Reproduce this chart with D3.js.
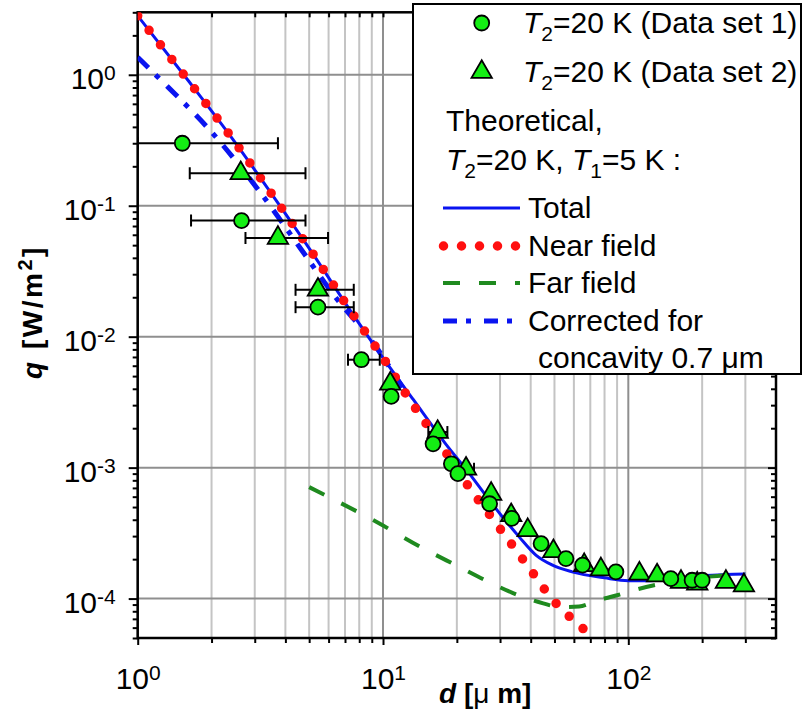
<!DOCTYPE html>
<html>
<head>
<meta charset="utf-8">
<script src="https://cdn.jsdelivr.net/npm/d3@7"></script>
<style>
  body { margin: 0; background: #fff; }
  svg { font-family: "Liberation Sans", Arial, sans-serif; }
</style>
</head>
<body>
<div class="chart"></div>
<script>
// data: [d (um), q (W/m2), xerr low, xerr high]
const dataSet1 = [
  [1.52, 0.30, 1.0, 3.73], [2.65, 0.077, 1.65, 4.83], [5.43, 0.0168, 4.4, 7.6],
  [8.16, 0.00667, 7.2, 9.7], [10.8, 0.0035], [16.0, 0.00152], [19.0, 0.00107],
  [20.2, 9.0e-4], [27.2, 5.3e-4], [33.5, 4.1e-4], [44.1, 2.63e-4], [55.7, 2.02e-4],
  [65.1, 1.8e-4], [89, 1.6e-4], [149, 1.42e-4], [182, 1.38e-4], [200, 1.38e-4]
];
const dataSet2 = [
  [2.63, 0.177, 1.63, 4.83], [3.73, 0.0568, 2.75, 5.97], [5.43, 0.0228, 4.4, 7.6],
  [10.7, 0.00437], [16.7, 0.00187, 15.3, 18.3], [21.8, 9.8e-4, 20.3, 23.5],
  [27.6, 6.3e-4], [33.3, 4.33e-4], [38.9, 3.33e-4], [49.5, 2.3e-4], [66.1, 1.8e-4],
  [77.3, 1.67e-4], [111, 1.55e-4], [131, 1.5e-4], [164, 1.34e-4], [191, 1.3e-4],
  [250, 1.34e-4], [296, 1.26e-4]
];
// theoretical curves [d, q]
const totalCurve = [
  [1, 2.82], [1.63, 0.873], [2.41, 0.333], [3.56, 0.119], [5.18, 0.0429], [7.43, 0.0154],
  [10, 0.0069], [13.3, 0.0033], [18.0, 0.00152], [22.5, 9.0e-4], [26.3, 6.1e-4],
  [30.7, 4.2e-4], [35.9, 2.96e-4], [42, 2.15e-4], [49.1, 1.8e-4], [59, 1.6e-4],
  [80, 1.44e-4], [100, 1.37e-4], [122, 1.37e-4], [147, 1.42e-4], [200, 1.49e-4],
  [250, 1.53e-4], [300, 1.54e-4]
];
const nearField = [
  [1, 2.82], [1.63, 0.873], [2.41, 0.333], [3.56, 0.119], [5.18, 0.0429], [7.43, 0.0154],
  [10, 0.0069], [12.9, 0.00326], [15.5, 0.00198], [18.7, 0.00118], [22.4, 7.1e-4],
  [27.3, 4.33e-4], [33.3, 2.63e-4], [40.2, 1.63e-4], [49.2, 9.8e-5], [55.4, 7.8e-5],
  [62.7, 6.3e-5], [70.4, 5.2e-5], [73, 4.8e-5]
];
const farField = [
  [5, 7.1e-4], [9.67, 3.74e-4], [14.1, 2.5e-4], [19.8, 1.8e-4], [27, 1.34e-4],
  [37.1, 1.03e-4], [45, 9.2e-5], [53, 8.6e-5], [63, 8.7e-5], [74, 9.6e-5],
  [90, 1.06e-4], [104, 1.15e-4], [126, 1.26e-4], [150, 1.33e-4], [200, 1.45e-4],
  [250, 1.51e-4], [300, 1.54e-4]
];
const corrected = [
  [1, 1.36], [1.195, 0.98], [2.06, 0.343], [3.05, 0.138], [4.58, 0.048],
  [6.25, 0.0212], [9.39, 0.0083], [12, 0.0041]
];
const xMajor = [1, 10, 100];
const yMajor = [1e-4, 1e-3, 1e-2, 1e-1, 1];

const width = 805, height = 715;
const pLeft = 137.7, pRight = 776, pTop = 12.3, pBottom = 638;

const x = d3.scaleLog().domain([1, 400]).range([pLeft, pRight]);
const y = d3.scaleLog().domain([5e-5, 3]).range([pBottom, pTop]);

const xAll = [];
[1, 10, 100].forEach(b => { for (let k = 1; k <= 9; k++) if (b * k < 400) xAll.push(b * k); });
const xMinor = xAll.filter(v => !xMajor.includes(v));
const yAll = [];
[1e-5, 1e-4, 1e-3, 1e-2, 1e-1, 1].forEach(b => {
  for (let k = 1; k <= 9; k++) { const v = +(b * k).toPrecision(3); if (v >= 5e-5 && v <= 3) yAll.push(v); }
});
const yMinor = yAll.filter(v => !yMajor.some(m => Math.abs(m - v) / m < 1e-6));

const svg = d3.select(".chart").append("svg")
  .attr("width", width).attr("height", height);

// grid
svg.append("g").selectAll("line").data(xMinor).join("line")
  .attr("x1", d => x(d)).attr("x2", d => x(d)).attr("y1", pTop).attr("y2", pBottom)
  .attr("stroke", "#c4c4c4").attr("stroke-width", 2);
svg.append("g").selectAll("line").data(xMajor).join("line")
  .attr("x1", d => x(d)).attr("x2", d => x(d)).attr("y1", pTop).attr("y2", pBottom)
  .attr("stroke", "#8f8f8f").attr("stroke-width", 2);
svg.append("g").selectAll("line").data(yMajor).join("line")
  .attr("x1", pLeft).attr("x2", pRight).attr("y1", d => y(d)).attr("y2", d => y(d))
  .attr("stroke", "#8f8f8f").attr("stroke-width", 2);

// axes
function supLabels(g) {
  g.selectAll(".tick text").each(function (d) {
    const t = d3.select(this).text(null);
    t.append("tspan").text("10");
    t.append("tspan").attr("dy", "-0.42em").attr("font-size", 21).text(Math.round(Math.log10(d)));
  });
}
function styleAxis(g) {
  g.select(".domain").remove();
  g.selectAll(".tick line").attr("stroke", "#000").attr("stroke-width", 2);
  g.selectAll(".tick text").attr("fill", "#000");
}

const yMajAxis = svg.append("g").attr("transform", `translate(${pLeft},0)`)
  .call(d3.axisLeft(y).tickValues(yMajor).tickSize(9).tickPadding(13))
  .attr("font-size", 30).attr("font-family", null);
styleAxis(yMajAxis); supLabels(yMajAxis);
yMajAxis.selectAll(".tick text").attr("dy", "0.45em");
const yMinAxis = svg.append("g").attr("transform", `translate(${pLeft},0)`)
  .call(d3.axisLeft(y).tickValues(yMinor).tickSize(5).tickFormat(""));
styleAxis(yMinAxis);

const rMajAxis = svg.append("g").attr("transform", `translate(${pRight},0)`)
  .call(d3.axisLeft(y).tickValues(yMajor).tickSize(8).tickFormat(""));
styleAxis(rMajAxis);
const rMinAxis = svg.append("g").attr("transform", `translate(${pRight},0)`)
  .call(d3.axisLeft(y).tickValues(yMinor).tickSize(5).tickFormat(""));
styleAxis(rMinAxis);

const xMajAxis = svg.append("g").attr("transform", `translate(0,${pBottom})`)
  .call(d3.axisBottom(x).tickValues(xMajor).tickSize(7).tickPadding(12))
  .attr("font-size", 30).attr("font-family", null);
styleAxis(xMajAxis); supLabels(xMajAxis);
xMajAxis.selectAll(".tick text").attr("dy", "1.05em");
const xMinAxis = svg.append("g").attr("transform", `translate(0,${pBottom})`)
  .call(d3.axisBottom(x).tickValues(xMinor).tickSize(5).tickFormat(""));
styleAxis(xMinAxis);
const tAxis = svg.append("g").attr("transform", `translate(0,${pTop})`)
  .call(d3.axisBottom(x).tickValues(xAll).tickSize(5).tickFormat(""));
styleAxis(tAxis);

// frame
svg.append("rect").attr("x", pLeft).attr("y", pTop)
  .attr("width", pRight - pLeft).attr("height", pBottom - pTop)
  .attr("fill", "none").attr("stroke", "#000").attr("stroke-width", 2.5);

// clip
svg.append("clipPath").attr("id", "plotclip").append("rect")
  .attr("x", pLeft).attr("y", pTop).attr("width", pRight - pLeft).attr("height", pBottom - pTop);
const plot = svg.append("g").attr("clip-path", "url(#plotclip)");

const line = d3.line().x(d => x(d[0])).y(d => y(d[1])).curve(d3.curveMonotoneX);

plot.append("path").datum(totalCurve).attr("d", line)
  .attr("fill", "none").attr("stroke", "#0a14f0").attr("stroke-width", 3);
plot.append("path").datum(farField).attr("d", line)
  .attr("fill", "none").attr("stroke", "#1f8a1f").attr("stroke-width", 4)
  .attr("stroke-dasharray", "17 19");
plot.append("path").datum(corrected).attr("d", line)
  .attr("fill", "none").attr("stroke", "#0a14f0").attr("stroke-width", 5)
  .attr("stroke-dasharray", "15 10 5 11");
plot.append("path").datum(nearField).attr("d", line)
  .attr("fill", "none").attr("stroke", "#ff1010").attr("stroke-width", 9.5)
  .attr("stroke-linecap", "round").attr("stroke-dasharray", "0 18.5");

// error bars
const withErr = dataSet1.concat(dataSet2).filter(d => d.length > 2);
const eb = plot.append("g").attr("stroke", "#000").attr("stroke-width", 2);
eb.selectAll(".h").data(withErr).join("line")
  .attr("x1", d => x(d[2])).attr("x2", d => x(d[3]))
  .attr("y1", d => y(d[1])).attr("y2", d => y(d[1]));
eb.selectAll(".cl").data(withErr).join("line")
  .attr("x1", d => x(d[2])).attr("x2", d => x(d[2]))
  .attr("y1", d => y(d[1]) - 6).attr("y2", d => y(d[1]) + 6);
eb.selectAll(".cr").data(withErr).join("line")
  .attr("x1", d => x(d[3])).attr("x2", d => x(d[3]))
  .attr("y1", d => y(d[1]) - 6).attr("y2", d => y(d[1]) + 6);

const markerFill = "#14ee14";
const tri = d3.symbol(d3.symbolTriangle).size(180);
plot.append("g").selectAll("path").data(dataSet2).join("path")
  .attr("d", tri).attr("transform", d => `translate(${x(d[0])},${y(d[1])})`)
  .attr("fill", markerFill).attr("stroke", "#000").attr("stroke-width", 1.8);
plot.append("g").selectAll("circle").data(dataSet1).join("circle")
  .attr("cx", d => x(d[0])).attr("cy", d => y(d[1])).attr("r", 7.5)
  .attr("fill", markerFill).attr("stroke", "#000").attr("stroke-width", 1.8);

// axis titles
const yt = svg.append("text").attr("transform", "translate(42,312) rotate(-90)")
  .attr("text-anchor", "middle").attr("font-size", 28).attr("font-weight", "bold")
  .attr("letter-spacing", 2.5);
yt.append("tspan").attr("font-style", "italic").text("q");
yt.append("tspan").text(" [W/m");
yt.append("tspan").attr("dy", -10).attr("font-size", 20).text("2");
yt.append("tspan").attr("dy", 10).text("]");

const xt = svg.append("text").attr("x", 439).attr("y", 703)
  .attr("font-size", 28).attr("font-weight", "bold");
xt.append("tspan").attr("font-style", "italic").text("d");
xt.append("tspan").text(" [");
xt.append("tspan").attr("font-weight", "normal").text("μ");
xt.append("tspan").text(" m]");

// legend
const lg = svg.append("g").attr("font-size", 30);
lg.append("rect").attr("x", 413).attr("y", 4).attr("width", 388).attr("height", 370)
  .attr("fill", "#fff").attr("stroke", "#000").attr("stroke-width", 2);
svg.append("clipPath").attr("id", "lgclip").append("rect")
  .attr("x", 413).attr("y", 4).attr("width", 387).attr("height", 370);
const lgt = lg.append("g").attr("clip-path", "url(#lgclip)");

function tText(sel, xx, yy, parts) {
  const t = sel.append("text").attr("x", xx).attr("y", yy);
  parts.forEach(p => {
    const s = t.append("tspan").text(p.t);
    if (p.i) s.attr("font-style", "italic");
    if (p.sub) s.attr("font-size", 21).attr("dy", 8);
    if (p.back) s.attr("dy", -8);
  });
  return t;
}
lgt.append("circle").attr("cx", 481.7).attr("cy", 23).attr("r", 7.5)
  .attr("fill", markerFill).attr("stroke", "#000").attr("stroke-width", 1.8);
tText(lgt, 523, 33, [{ t: "T", i: 1 }, { t: "2", sub: 1 }, { t: "=20 K (Data set 1)", back: 1 }]);
lgt.append("path").attr("d", tri).attr("transform", "translate(481.7,72)")
  .attr("fill", markerFill).attr("stroke", "#000").attr("stroke-width", 1.8);
tText(lgt, 523, 82, [{ t: "T", i: 1 }, { t: "2", sub: 1 }, { t: "=20 K (Data set 2)", back: 1 }]);
lgt.append("text").attr("x", 446).attr("y", 131).text("Theoretical,");
tText(lgt, 446, 170, [{ t: "T", i: 1 }, { t: "2", sub: 1 }, { t: "=20 K, ", back: 1 },
  { t: "T", i: 1 }, { t: "1", sub: 1 }, { t: "=5 K :", back: 1 }]);

const lgLines = [
  { y: 208, label: "Total", stroke: "#0a14f0", w: 3, dash: null, cap: "butt" },
  { y: 246, label: "Near field", stroke: "#ff1010", w: 9.5, dash: "0 18", cap: "round" },
  { y: 283, label: "Far field", stroke: "#1f8a1f", w: 4, dash: "17 19", cap: "butt" },
  { y: 321, label: "Corrected for", stroke: "#0a14f0", w: 5, dash: "14 9 5 13", cap: "butt" }
];
lgLines.forEach(r => {
  const isNear = r.label === "Near field";
  lgt.append("line").attr("x1", isNear ? 443.5 : 443).attr("x2", isNear ? 516 : 520)
    .attr("y1", r.y).attr("y2", r.y)
    .attr("stroke", r.stroke).attr("stroke-width", r.w)
    .attr("stroke-dasharray", r.dash).attr("stroke-linecap", r.cap);
  lgt.append("text").attr("x", 528).attr("y", r.y + 10).text(r.label);
});
lgt.append("text").attr("x", 538).attr("y", 368).text("concavity 0.7 μm");
</script>
</body>
</html>
